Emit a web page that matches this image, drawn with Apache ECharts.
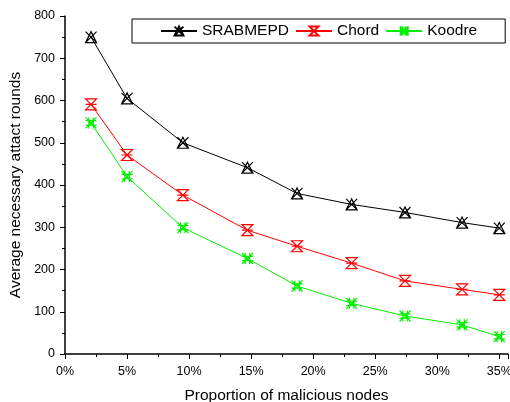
<!DOCTYPE html>
<html>
<head>
<meta charset="utf-8">
<script src="https://cdn.jsdelivr.net/npm/echarts@6/dist/echarts.min.js"></script>
<style>
  html, body { margin: 0; padding: 0; background: #fff; }
  #chart { width: 510px; height: 402px; }
</style>
</head>
<body>
<div id="chart"></div>
<script>
// proportion of malicious nodes (%)
const xValues = [2.1, 5.0, 9.5, 14.7, 18.7, 23.1, 27.4, 32.0, 35.0]
const srabmepd = [750, 605, 500, 441, 380, 354, 335, 311, 298]
const chord = [591, 471, 376, 293, 255, 215, 173, 153, 140]
const koodre = [547, 420, 299, 226, 161, 120, 90, 69, 41]
const seriesNames = ['SRABMEPD', 'Chord', 'Koodre']

const font = 'Arial, "Liberation Sans", sans-serif'

// hourglass cross marker, like the Origin one
const markBlack = 'path://M5,0 L0,10 L10,10 Z M0,0 L10,10 M10,0 L0,10'
const markRed = 'path://M0,0 L10,0 L0,10 L10,10 Z M0,5 L10,5'
const markGreen = 'path://M0,0 L10,10 M10,0 L0,10 M0,3 L10,3 M0,7 L10,7 M3,0 L3,10 M7,0 L7,10'

function pairs(ys) {
  return xValues.map((x, i) => [x, ys[i]])
}

function makeSeries(name, ys, color, symbol) {
  return {
    name: name,
    type: 'line',
    data: pairs(ys),
    symbol: symbol,
    symbolSize: 11,
    showAllSymbol: true,
    lineStyle: { color: color, width: 1 },
    itemStyle: { color: 'rgba(255,255,255,0)', borderColor: color, borderWidth: 1.2 },
    emphasis: { disabled: true }
  }
}

const chart = echarts.init(document.getElementById('chart'))
chart.setOption({
  animation: false,
  textStyle: { fontFamily: font },
  grid: { left: 65, right: 2, top: 16, bottom: 48, outerBoundsMode: 'none' },
  legend: {
    data: seriesNames,
    left: 132,
    top: 19,
    itemWidth: 36,
    itemHeight: 11,
    itemGap: 6,
    padding: [4, 28, 4, 28],
    borderColor: '#000',
    borderWidth: 1,
    textStyle: { fontSize: 15.5, color: '#000', fontFamily: font }
  },
  xAxis: {
    type: 'value',
    min: 0,
    max: 35.7,
    interval: 5,
    name: 'Proportion of malicious nodes',
    nameLocation: 'middle',
    nameGap: 34,
    nameTextStyle: { fontSize: 15.5, color: '#000', fontFamily: font },
    axisLine: { lineStyle: { color: '#000', width: 1.5 } },
    axisTick: { inside: false, length: 5, lineStyle: { color: '#000' } },
    minorTick: { show: true, splitNumber: 2, length: 3, lineStyle: { color: '#000' } },
    axisLabel: {
      fontSize: 12.5,
      color: '#000',
      margin: 11,
      formatter: v => (Math.abs(v % 5) < 1e-6 ? v + '%' : '')
    },
    splitLine: { show: false }
  },
  yAxis: {
    type: 'value',
    min: 0,
    max: 800,
    interval: 100,
    name: 'Average necessary attact rounds',
    nameLocation: 'middle',
    nameGap: 38,
    nameTextStyle: { fontSize: 15.5, color: '#000', fontFamily: font },
    axisLine: { show: true, lineStyle: { color: '#000', width: 1.5 } },
    axisTick: { show: true, inside: false, length: 5, lineStyle: { color: '#000' } },
    minorTick: { show: true, splitNumber: 2, length: 3, lineStyle: { color: '#000' } },
    axisLabel: { fontSize: 12.5, color: '#000', margin: 10 },
    splitLine: { show: false }
  },
  series: [
    makeSeries('SRABMEPD', srabmepd, '#000000', markBlack),
    makeSeries('Chord', chord, '#ff0000', markRed),
    makeSeries('Koodre', koodre, '#00ee00', markGreen)
  ]
})
</script>
</body>
</html>
